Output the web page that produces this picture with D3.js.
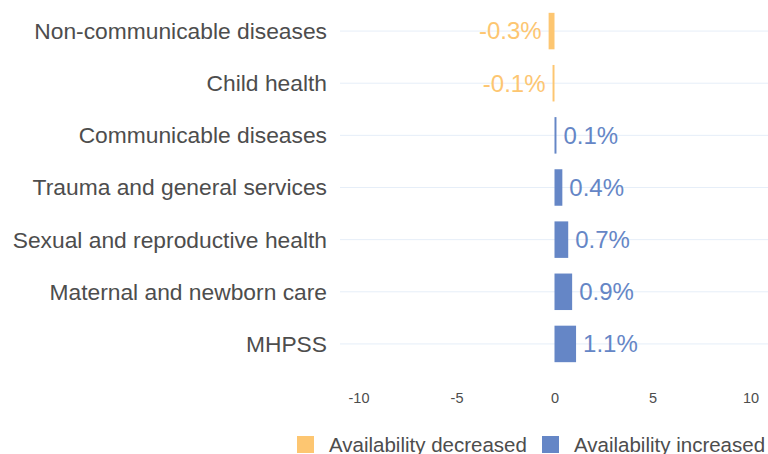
<!DOCTYPE html>
<html>
<head>
<meta charset="utf-8">
<script src="https://cdn.jsdelivr.net/npm/d3@7"></script>
<style>
  body { margin: 0; background: #fff; }
  text { font-family: "Liberation Sans", Arial, sans-serif; }
</style>
</head>
<body>
<div id="chart"></div>
<script>
// chart data
var categories = ["Non-communicable diseases", "Child health", "Communicable diseases",
  "Trauma and general services", "Sexual and reproductive health",
  "Maternal and newborn care", "MHPSS"];
var values = [-0.3, -0.1, 0.1, 0.4, 0.7, 0.9, 1.1];
var labels = ["-0.3%", "-0.1%", "0.1%", "0.4%", "0.7%", "0.9%", "1.1%"];
var xTicks = [-10, -5, 0, 5, 10];
var legendItems = ["Availability decreased", "Availability increased"];

var colors = { dec: "#fdc671", inc: "#6586c6" };

var width = 768, height = 454;
var svg = d3.select("#chart").append("svg")
  .attr("width", width)
  .attr("height", height);

var x = d3.scaleLinear().domain([-10, 10]).range([358.5, 750.5]);
var y = d3.scaleBand().domain(categories).range([5, 370]).paddingInner(0.3).paddingOuter(0.15);

// horizontal grid lines
svg.selectAll("line.grid")
  .data(categories)
  .enter()
    .append("line")
    .attr("class", "grid")
    .attr("x1", 340)
    .attr("x2", width)
    .attr("y1", function(d) { return y(d) + y.bandwidth() / 2; })
    .attr("y2", function(d) { return y(d) + y.bandwidth() / 2; })
    .attr("stroke", "#e6eef8")
    .attr("stroke-width", 1);

// category labels
svg.selectAll("text.cat")
  .data(categories)
  .enter()
    .append("text")
    .attr("class", "cat")
    .attr("x", 327)
    .attr("y", function(d) { return y(d) + y.bandwidth() / 2; })
    .attr("dy", "0.35em")
    .attr("text-anchor", "end")
    .attr("fill", "#4d4d4d")
    .style("font-size", "22.8px")
    .text(function(d) { return d; });

// bars
svg.selectAll("rect.bar")
  .data(values)
  .enter()
    .append("rect")
    .attr("class", "bar")
    .attr("x", function(d) { return Math.min(x(0), x(d)); })
    .attr("y", function(d, i) { return y(categories[i]); })
    .attr("width", function(d) { return Math.max(1, Math.abs(x(d) - x(0))); })
    .attr("height", y.bandwidth())
    .attr("fill", function(d) { return d < 0 ? colors.dec : colors.inc; });

// value labels
svg.selectAll("text.val")
  .data(values)
  .enter()
    .append("text")
    .attr("class", "val")
    .attr("x", function(d) { return d < 0 ? x(d) - 7 : x(d) + 7; })
    .attr("y", function(d, i) { return y(categories[i]) + y.bandwidth() / 2; })
    .attr("dy", "0.35em")
    .attr("text-anchor", function(d) { return d < 0 ? "end" : "start"; })
    .attr("fill", function(d) { return d < 0 ? colors.dec : colors.inc; })
    .style("font-size", "24px")
    .text(function(d, i) { return labels[i]; });

// x axis (labels only)
var axis = svg.append("g")
  .attr("transform", "translate(0,393)")
  .call(d3.axisBottom(x).tickValues(xTicks).tickSize(0).tickPadding(0)
    .tickFormat(function(d) { return String(d); }));
axis.select(".domain").remove();
axis.selectAll("text")
  .attr("fill", "#4d4d4d")
  .style("font-size", "14.5px")
  .style("font-family", "'Liberation Sans', Arial, sans-serif");

// legend
var legendX = [297, 542];
var legend = svg.selectAll("g.legend")
  .data(legendItems)
  .enter()
    .append("g")
    .attr("class", "legend")
    .attr("transform", function(d, i) { return "translate(" + legendX[i] + ",436)"; });
legend.append("rect")
  .attr("width", 17)
  .attr("height", 17)
  .attr("fill", function(d, i) { return i === 0 ? colors.dec : colors.inc; });
legend.append("text")
  .attr("x", 32)
  .attr("y", 9)
  .attr("dy", "0.35em")
  .attr("fill", "#4d4d4d")
  .style("font-size", "20.5px")
  .text(function(d) { return d; });
</script>
</body>
</html>
